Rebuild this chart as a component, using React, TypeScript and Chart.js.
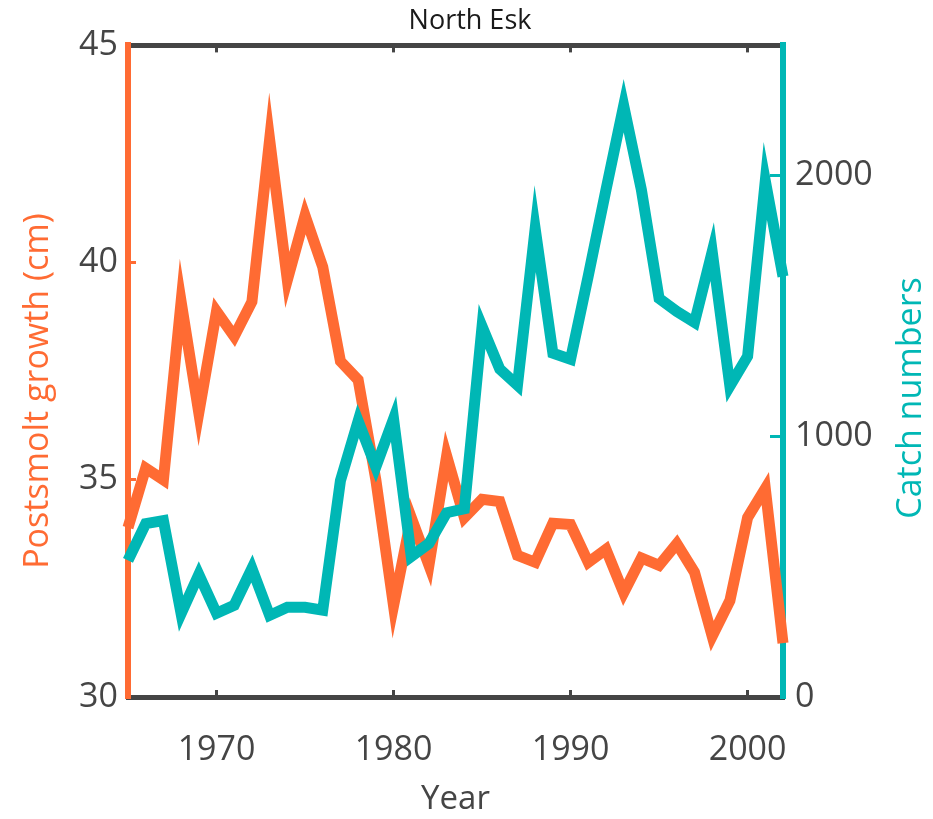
import React, { useEffect, useRef } from "react";
import { Chart, registerables } from "chart.js";

Chart.register(...registerables);

// Annual series, 1965–2002
const years = [
  1965, 1966, 1967, 1968, 1969, 1970, 1971, 1972, 1973, 1974,
  1975, 1976, 1977, 1978, 1979, 1980, 1981, 1982, 1983, 1984,
  1985, 1986, 1987, 1988, 1989, 1990, 1991, 1992, 1993, 1994,
  1995, 1996, 1997, 1998, 1999, 2000, 2001, 2002,
];

// Postsmolt growth (cm)
const growth = [
  33.9, 35.27, 35.0, 39.1, 36.54, 38.88, 38.3, 39.1, 42.83, 39.6,
  41.08, 39.9, 37.73, 37.3, 35.0, 32.1, 34.13, 33.03, 35.55, 34.13,
  34.55, 34.5, 33.26, 33.1, 34.0, 33.97, 33.1, 33.4, 32.4, 33.2,
  33.03, 33.53, 32.87, 31.4, 32.22, 34.13, 34.8, 31.24,
];

// Catch numbers
const catchNumbers = [
  524, 665, 677, 320, 470, 321, 352, 493, 313, 344,
  344, 333, 830, 1059, 883, 1067, 539, 589, 707, 722,
  1422, 1258, 1196, 1797, 1319, 1296, 1616, 1946, 2269, 1946,
  1529, 1479, 1437, 1709, 1193, 1307, 1980, 1613,
];

const yearTicks = [1970, 1980, 1990, 2000];
const growthTicks = [30, 35, 40, 45];
const catchTicks = [0, 1000, 2000];

const ORANGE = "#FF6B33";
const TEAL = "#00B7B5";
const AXIS = "#454545";
const FONT = "'Open Sans', sans-serif";

const W = 933;
const H = 819;

const titlesPlugin = {
  id: "titles",
  afterDraw(chart: any) {
    const { ctx } = chart;
    ctx.save();
    ctx.textAlign = "center";
    ctx.textBaseline = "middle";
    ctx.fillStyle = "#1a1a1a";
    ctx.font = `27px ${FONT}`;
    ctx.fillText("North Esk", 470, 21);
    ctx.restore();

    ctx.save();
    ctx.textAlign = "center";
    ctx.textBaseline = "middle";
    ctx.font = `34px ${FONT}`;
    ctx.fillStyle = ORANGE;
    ctx.translate(38, 391);
    ctx.rotate(-Math.PI / 2);
    ctx.fillText("Postsmolt growth (cm)", 0, 0);
    ctx.restore();

    ctx.save();
    ctx.textAlign = "center";
    ctx.textBaseline = "middle";
    ctx.font = `34px ${FONT}`;
    ctx.fillStyle = TEAL;
    ctx.translate(911, 398);
    ctx.rotate(-Math.PI / 2);
    ctx.fillText("Catch numbers", 0, 0);
    ctx.restore();
  },
};

export default function App() {
  const canvasRef = useRef<HTMLCanvasElement | null>(null);

  useEffect(() => {
    const canvas = canvasRef.current;
    if (!canvas) return;

    const lineStyle = {
      borderWidth: 11,
      pointRadius: 0,
      tension: 0,
      borderJoinStyle: "miter",
      borderCapStyle: "butt",
      clip: false,
    };

    const chart = new Chart(canvas, {
      type: "line",
      data: {
        datasets: [
          {
            label: "Catch numbers",
            data: years.map((yr, i) => ({ x: yr, y: catchNumbers[i] })),
            yAxisID: "yCatch",
            xAxisID: "x",
            borderColor: TEAL,
            ...lineStyle,
          },
          {
            label: "Postsmolt growth (cm)",
            data: years.map((yr, i) => ({ x: yr, y: growth[i] })),
            yAxisID: "yGrowth",
            xAxisID: "x",
            borderColor: ORANGE,
            ...lineStyle,
          },
        ],
      },
      options: {
        responsive: false,
        animation: false,
        devicePixelRatio: 1,
        layout: { padding: 0 },
        plugins: {
          legend: { display: false },
          tooltip: { enabled: false },
          title: { display: false },
        },
        scales: {
          x: {
            type: "linear",
            position: "bottom",
            min: 1965,
            max: 2002,
            afterBuildTicks: (s: any) => {
              s.ticks = yearTicks.map((v) => ({ value: v }));
            },
            afterFit: (s: any) => {
              s.height = H - 697;
            },
            ticks: {
              font: { family: FONT, size: 34 },
              color: AXIS,
              padding: 40,
              maxRotation: 0,
              callback: (v: any) => String(v),
            },
            grid: {
              drawOnChartArea: false,
              tickLength: -7,
              tickColor: AXIS,
              tickWidth: 3,
              lineWidth: 3,
            },
            border: { color: AXIS, width: 5 },
            title: {
              display: true,
              text: "Year",
              color: AXIS,
              font: { family: FONT, size: 33 },
              padding: { top: 0, bottom: 0 },
            },
          },
          xTop: {
            type: "linear",
            position: "top",
            min: 1965,
            max: 2002,
            afterBuildTicks: (s: any) => {
              s.ticks = yearTicks.map((v) => ({ value: v }));
            },
            afterFit: (s: any) => {
              s.height = 43;
            },
            ticks: { display: false },
            grid: {
              drawOnChartArea: false,
              tickLength: -7,
              tickColor: AXIS,
              tickWidth: 3,
              lineWidth: 3,
            },
            border: { color: AXIS, width: 5 },
          },
          yGrowth: {
            type: "linear",
            position: "left",
            min: 30,
            max: 45,
            afterBuildTicks: (s: any) => {
              s.ticks = growthTicks.map((v) => ({ value: v }));
            },
            afterFit: (s: any) => {
              s.width = 128;
            },
            ticks: {
              font: { family: FONT, size: 34 },
              color: AXIS,
              padding: 18,
              callback: (v: any) => String(v),
            },
            grid: {
              drawOnChartArea: false,
              tickLength: -8,
              tickColor: ORANGE,
              tickWidth: 3,
              lineWidth: 3,
            },
            border: { color: ORANGE, width: 6 },
          },
          yCatch: {
            type: "linear",
            position: "right",
            min: 0,
            max: 2500,
            afterBuildTicks: (s: any) => {
              s.ticks = catchTicks.map((v) => ({ value: v }));
            },
            afterFit: (s: any) => {
              s.width = W - 783;
            },
            ticks: {
              font: { family: FONT, size: 34 },
              color: AXIS,
              padding: 25,
              callback: (v: any) => String(v),
            },
            grid: {
              drawOnChartArea: false,
              tickLength: -13,
              tickColor: TEAL,
              tickWidth: 3,
              lineWidth: 3,
            },
            border: { color: TEAL, width: 6 },
          },
        },
      },
      plugins: [titlesPlugin],
    } as any);

    return () => chart.destroy();
  }, []);

  return (
    <div style={{ position: "absolute", left: 0, top: 0, width: W, height: H, background: "#fff" }}>
      <canvas ref={canvasRef} width={W} height={H} style={{ display: "block" }} />
    </div>
  );
}
